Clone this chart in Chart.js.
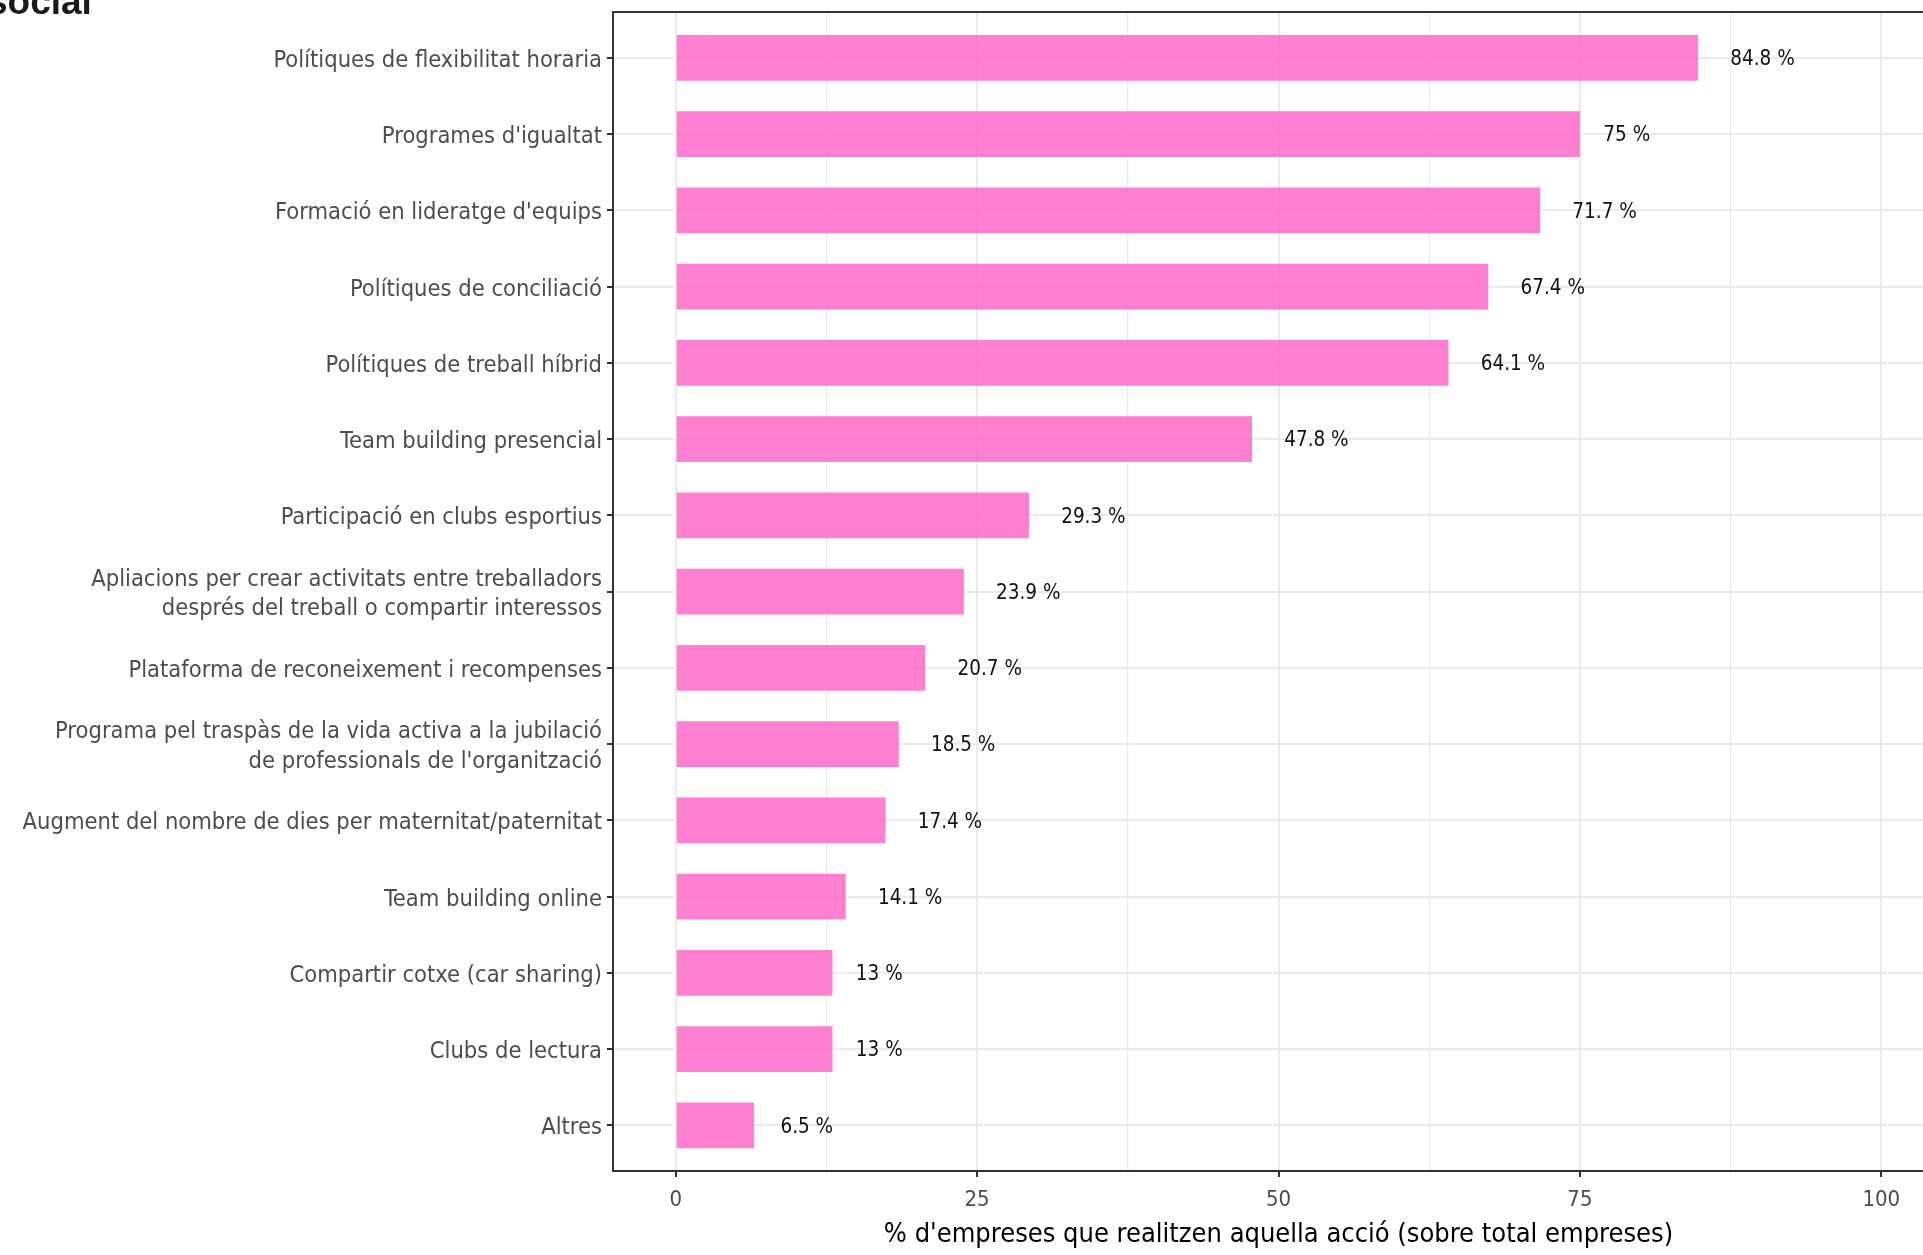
<!DOCTYPE html>
<html>
<head>
<meta charset="utf-8">
<script src="https://cdn.jsdelivr.net/npm/chart.js@4/dist/chart.umd.min.js"></script>
<style>
  html, body { margin: 0; padding: 0; background: #fff; overflow: hidden; }
  #wrap { position: relative; width: 1923px; height: 1255px; overflow: hidden; }
  #heading {
    position: absolute; left: -13px; top: -19px;
    font: bold 37px "Liberation Sans", Arial, sans-serif; color: #1a1a1a;
    white-space: nowrap;
  }
  #chart { position: absolute; left: 0; top: 0; }
</style>
</head>
<body>
<div id="wrap">
  <canvas id="chart" width="1960" height="1255"></canvas>
  <div id="heading">social</div>
</div>
<script>
// accions, de dalt a baix
const accions = [
  'Polítiques de flexibilitat horaria',
  "Programes d'igualtat",
  "Formació en lideratge d'equips",
  'Polítiques de conciliació',
  'Polítiques de treball híbrid',
  'Team building presencial',
  'Participació en clubs esportius',
  ['Apliacions per crear activitats entre treballadors', 'després del treball o compartir interessos'],
  'Plataforma de reconeixement i recompenses',
  ['Programa pel traspàs de la vida activa a la jubilació', "de professionals de l'organització"],
  'Augment del nombre de dies per maternitat/paternitat',
  'Team building online',
  'Compartir cotxe (car sharing)',
  'Clubs de lectura',
  'Altres'
];
const percentatges = [84.8, 75, 71.7, 67.4, 64.1, 47.8, 29.3, 23.9, 20.7, 18.5, 17.4, 14.1, 13, 13, 6.5];
const xTicks = [0, 12.5, 25, 37.5, 50, 62.5, 75, 87.5, 100];

const narrow = '"Liberation Sans Narrow", "Arial Narrow", "DejaVu Sans Condensed", sans-serif';

// marc del panell
const framePlugin = {
  id: 'frame',
  afterDraw(chart) {
    const a = chart.chartArea, c = chart.ctx;
    c.save();
    c.strokeStyle = '#333333';
    c.lineWidth = 2;
    c.strokeRect(a.left, a.top, a.right - a.left, a.bottom - a.top);
    c.restore();
  }
};

// etiqueta "xx %" a la dreta de cada barra (separada mitja amplada del text)
const valueLabels = {
  id: 'valueLabels',
  afterDatasetsDraw(chart) {
    const c = chart.ctx;
    const meta = chart.getDatasetMeta(0);
    c.save();
    c.font = '20.5px ' + narrow;
    c.fillStyle = '#111111';
    c.textAlign = 'left';
    c.textBaseline = 'middle';
    meta.data.forEach((bar, i) => {
      const txt = percentatges[i] + ' %';
      const w = c.measureText(txt).width;
      c.fillText(txt, bar.x + w * 0.5, bar.y + 2);
    });
    c.restore();
  }
};

new Chart(document.getElementById('chart'), {
  type: 'bar',
  data: {
    datasets: [{
      data: percentatges.map((v, i) => ({ x: v, y: i })),
      backgroundColor: 'rgba(255, 105, 200, 0.85)',
      borderWidth: 0,
      barPercentage: 0.6,
      categoryPercentage: 1
    }]
  },
  plugins: [framePlugin, valueLabels],
  options: {
    indexAxis: 'y',
    responsive: false,
    animation: false,
    layout: { padding: { top: 12, right: 16, left: 0, bottom: 0 } },
    plugins: { legend: { display: false }, tooltip: { enabled: false } },
    scales: {
      x: {
        type: 'linear',
        min: -5.2,
        max: 105.2,
        afterBuildTicks(scale) { scale.ticks = xTicks.map(v => ({ value: v })); },
        afterFit(scale) { scale.height = 84; },
        border: { display: false },
        grid: {
          color: '#EBEBEB',
          lineWidth: ctx => (ctx.tick && ctx.tick.value % 25 === 0) ? 2 : 1.2,
          tickColor: ctx => (ctx.tick && ctx.tick.value % 25 === 0) ? '#333333' : 'rgba(0,0,0,0)',
          tickLength: 6,
          tickWidth: 2
        },
        ticks: {
          autoSkip: false,
          maxRotation: 0,
          padding: 10,
          color: '#4d4d4d',
          font: { family: narrow, size: 22 },
          callback: v => (v % 25 === 0 ? String(v) : '')
        },
        title: {
          display: true,
          text: "% d'empreses que realitzen aquella acció (sobre total empreses)",
          color: '#000000',
          font: { family: narrow, size: 27 },
          padding: { top: 0, bottom: 4 }
        }
      },
      y: {
        type: 'linear',
        min: -0.6,
        max: 14.6,
        reverse: true,
        offset: false,
        afterBuildTicks(scale) { scale.ticks = accions.map((_, i) => ({ value: i })); },
        afterFit(scale) {
          scale.width = 613;
          scale.paddingTop = 0;
          scale.paddingBottom = 0;
        },
        border: { display: false },
        grid: {
          offset: false,
          color: '#EBEBEB',
          lineWidth: 2,
          tickColor: '#333333',
          tickLength: 6,
          tickWidth: 2
        },
        ticks: {
          autoSkip: false,
          padding: 5,
          labelOffset: 3,
          color: '#4d4d4d',
          font: { family: narrow, size: 23.5, lineHeight: 1.25 },
          callback: v => accions[v]
        }
      }
    }
  }
});
</script>
</body>
</html>
